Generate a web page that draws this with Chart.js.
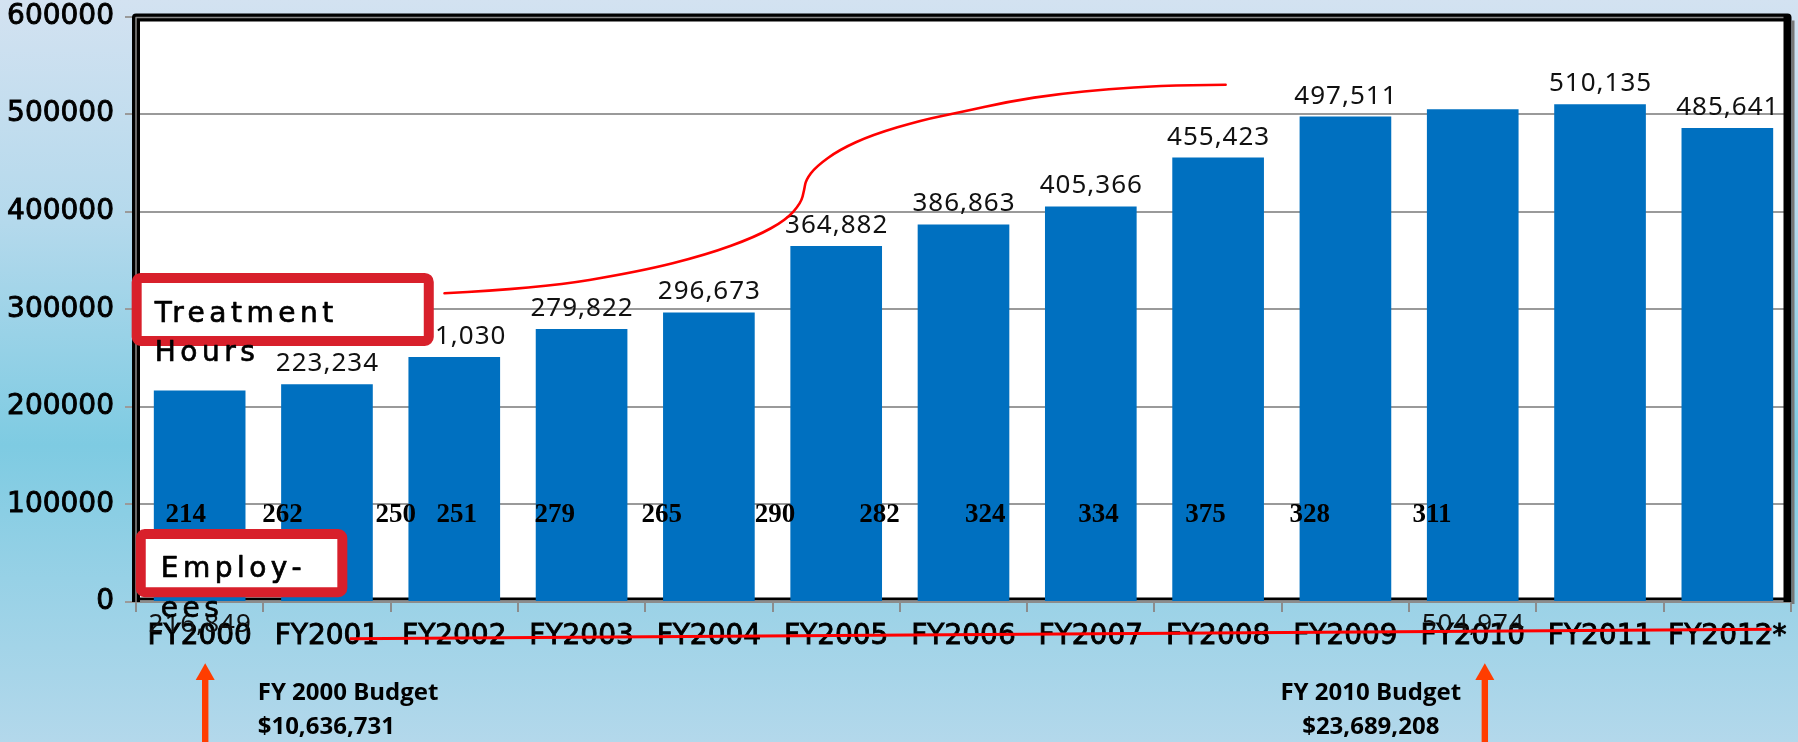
<!DOCTYPE html>
<html><head><meta charset="utf-8">
<script src="https://cdn.jsdelivr.net/npm/chart.js@4"></script>
<style>html,body{margin:0;padding:0;overflow:hidden;background:#fff}canvas{display:block}</style>
</head><body>
<canvas id="c" width="1798" height="742"></canvas>
<script>
// ---- data ----
const categories = ['FY2000','FY2001','FY2002','FY2003','FY2004','FY2005','FY2006','FY2007','FY2008','FY2009','FY2010','FY2011','FY2012*'];
const treatmentHours = [216849,223234,251030,279822,296673,364882,386863,405366,455423,497511,504974,510135,485641];
const employees = [214,262,250,251,279,265,290,282,324,334,375,328,311];
const yTicks = [0,100000,200000,300000,400000,500000,600000];
const budgetTitles = ['FY 2000 Budget','FY 2010 Budget'];
const budgetAmounts = ['$10,636,731','$23,689,208'];
const boxTexts = [['Treatment','Hours'],['Employ-','ees']];

// ---- annotation layout (axis units: category index, hours) ----
const employeeLabelX = [-0.11,0.65,1.54,2.02,2.79,3.63,4.52,5.34,6.17,7.06,7.90,8.72,9.68];
const employeeLabelBase = 82000;
const displacedValueLabels = [0,10];
const displacedLabelBase = -30500;
const curvePts = [[1.923,316400],[2.669,321500],[3.454,338600],[3.977,355700],[4.370,374400],[4.605,391600],[4.723,408700],[4.749,422300],[4.762,432600],[4.841,446200],[5.024,463400],[5.285,478800],[5.678,494100],[5.965,501600],[6.358,512900],[6.750,520800],[7.142,525600],[7.535,529000],[8.059,530000]];
const boxes = [
  {u0:-0.534,u1:1.839,v0:337200,v1:262400,tx:-0.353,lines:[287300,247000]},
  {u0:-0.502,u1:1.160,v0:74700,v1:4900,tx:-0.306,lines:[25700,-15300]}
];
const redLine = [[1.178,-37600],[12.347,-27900]];
const arrowsU = [0.0436,10.095];
const arrowTipV = -62800, arrowBaseV = -80000, arrowEndV = -145000;
const budgetPos = [{u:0.456,align:'left'},{u:9.199,align:'center'}];
const budgetV = [-100500,-135500];

const tickFont = {family:'DejaVu Sans', size:28};

const decor = {
  id:'decor',
  beforeDraw(chart){
    const ctx = chart.ctx, ca = chart.chartArea, W = chart.width, H = chart.height;
    const g = ctx.createLinearGradient(0,0,0,H);
    g.addColorStop(0,'#d3e2f1');
    g.addColorStop(0.3,'#b4d9ec');
    g.addColorStop(0.6,'#7ecbe2');
    g.addColorStop(0.78,'#97d1e6');
    g.addColorStop(1,'#b3d8eb');
    ctx.save();
    ctx.fillStyle = g; ctx.fillRect(0,0,W,H);
    ctx.fillStyle = '#fff'; ctx.fillRect(ca.left,ca.top,ca.right-ca.left,ca.bottom-ca.top);
    ctx.restore();
  },
  beforeDatasetsDraw(chart){
    const ctx = chart.ctx, ca = chart.chartArea;
    ctx.save();
    const R = ca.right-3.5, T = ca.top+1;
    ctx.strokeStyle = '#000'; ctx.lineWidth = 3;
    ctx.beginPath(); ctx.moveTo(ca.left, ca.bottom-3); ctx.lineTo(R, ca.bottom-3); ctx.stroke();
    ctx.lineWidth = 8; ctx.lineJoin = 'round';
    ctx.beginPath(); ctx.moveTo(ca.left, ca.bottom); ctx.lineTo(ca.left, T); ctx.lineTo(R, T); ctx.lineTo(R, ca.bottom); ctx.stroke();
    ctx.strokeStyle = '#8a8a8a'; ctx.lineWidth = 1.5;
    ctx.beginPath(); ctx.moveTo(ca.left, ca.bottom); ctx.lineTo(ca.left, T); ctx.lineTo(R-4, T); ctx.stroke();
    ctx.strokeStyle = '#777'; ctx.lineWidth = 3;
    ctx.beginPath(); ctx.moveTo(R+5.5, T+3); ctx.lineTo(R+5.5, ca.bottom+2); ctx.stroke();
    ctx.restore();
  },
  afterDatasetsDraw(chart){
    const ctx = chart.ctx, xs = chart.scales.x, ys = chart.scales.y;
    const X = u => xs.getPixelForValue(u), Y = v => ys.getPixelForValue(v);
    ctx.save();
    // value labels
    ctx.font = '26px "Noto Sans"'; ctx.fillStyle = '#111'; ctx.textAlign = 'center'; ctx.textBaseline = 'alphabetic';
    try { ctx.letterSpacing = '1px'; } catch(e){}
    treatmentHours.forEach((v,i)=>{
      const txt = v.toLocaleString('en-US');
      const y = displacedValueLabels.includes(i) ? Y(displacedLabelBase) : Y(v) - 13;
      ctx.fillText(txt, X(i)+0.5, y);
    });
    try { ctx.letterSpacing = '0px'; } catch(e){}
    // employee labels
    ctx.font = 'bold 27px "Liberation Serif"'; ctx.fillStyle = '#000';
    employees.forEach((e,i)=>{ ctx.fillText(String(e), X(employeeLabelX[i]), Y(employeeLabelBase)); });
    // curve
    ctx.strokeStyle = '#ff0000'; ctx.lineWidth = 2.6; ctx.lineCap = 'round'; ctx.lineJoin='round';
    const P = curvePts.map(p=>[X(p[0]),Y(p[1])]);
    ctx.beginPath(); ctx.moveTo(P[0][0],P[0][1]);
    for (let i=1;i<P.length-1;i++){
      const mx=(P[i][0]+P[i+1][0])/2, my=(P[i][1]+P[i+1][1])/2;
      ctx.quadraticCurveTo(P[i][0],P[i][1],mx,my);
    }
    ctx.lineTo(P[P.length-1][0],P[P.length-1][1]); ctx.stroke();
    // boxes
    boxes.forEach((b,k)=>{
      const x0=X(b.u0)+5, x1=X(b.u1)-5, y0=Y(b.v0)+5, y1=Y(b.v1)-5;
      ctx.beginPath();
      if (ctx.roundRect) ctx.roundRect(x0,y0,x1-x0,y1-y0,4); else ctx.rect(x0,y0,x1-x0,y1-y0);
      ctx.fillStyle='#fff'; ctx.fill();
      ctx.strokeStyle='#d8202b'; ctx.lineWidth=10; ctx.stroke();
      ctx.fillStyle='#000'; ctx.strokeStyle='#000'; ctx.lineWidth=0.7; ctx.textAlign='left'; ctx.font='28px "DejaVu Sans"';
      try { ctx.letterSpacing = '4.5px'; } catch(e){}
      boxTexts[k].forEach((t,j)=>{ ctx.fillText(t, X(b.tx), Y(b.lines[j])); ctx.strokeText(t, X(b.tx), Y(b.lines[j])); });
      try { ctx.letterSpacing = '0px'; } catch(e){}
    });
    // bottom red line
    ctx.strokeStyle='#ff0000'; ctx.lineWidth=3; ctx.lineCap='butt';
    ctx.beginPath(); ctx.moveTo(X(redLine[0][0]),Y(redLine[0][1])); ctx.lineTo(X(redLine[1][0]),Y(redLine[1][1])); ctx.stroke();
    // arrows
    ctx.fillStyle='#ff3d00';
    arrowsU.forEach(u=>{
      const x=X(u), tip=Y(arrowTipV), base=Y(arrowBaseV), end=Y(arrowEndV);
      ctx.fillRect(x-3.2, base-1, 6.4, end-base+1);
      ctx.beginPath(); ctx.moveTo(x,tip); ctx.lineTo(x+9.5,base); ctx.lineTo(x-9.5,base); ctx.closePath(); ctx.fill();
    });
    // budget notes
    ctx.fillStyle='#000'; ctx.font='bold 24px "Open Sans"';
    budgetPos.forEach((p,i)=>{
      ctx.textAlign=p.align;
      ctx.fillText(budgetTitles[i], X(p.u), Y(budgetV[0]));
      ctx.fillText(budgetAmounts[i], X(p.u), Y(budgetV[1]));
    });
    ctx.restore();
  }
};

new Chart(document.getElementById('c'), {
  type:'bar',
  data:{labels:categories, datasets:[{label:'Treatment Hours', data:treatmentHours, backgroundColor:'#0070c0', barPercentage:0.72, categoryPercentage:1}]},
  options:{
    responsive:false, animation:false, devicePixelRatio:1,
    layout:{padding:{top:16.5,right:7,left:0,bottom:0}},
    plugins:{legend:{display:false}, tooltip:{enabled:false}},
    scales:{
      x:{
        grid:{display:true, drawOnChartArea:false, drawTicks:true, tickLength:10, color:'#8c8c8c', lineWidth:2, offset:true},
        border:{display:true, color:'#8c8c8c', width:2},
        ticks:{autoSkip:false, maxRotation:0, minRotation:0, padding:8, color:'#000', font:tickFont, textStrokeColor:'#000', textStrokeWidth:0.9},
        afterFit(s){ s.height = 140; }
      },
      y:{
        min:0, max:600000,
        afterBuildTicks(s){ s.ticks = yTicks.map(v=>({value:v})); },
        ticks:{callback:v=>String(v), padding:11, color:'#000', font:tickFont, textStrokeColor:'#000', textStrokeWidth:0.9},
        grid:{color:'#9a9a9a', lineWidth:2, tickLength:11, drawTicks:true},
        border:{display:false},
        afterFit(s){ s.width = 136; s.paddingTop = 0; s.paddingBottom = 0; }
      }
    }
  },
  plugins:[decor]
});
</script>
</body></html>
